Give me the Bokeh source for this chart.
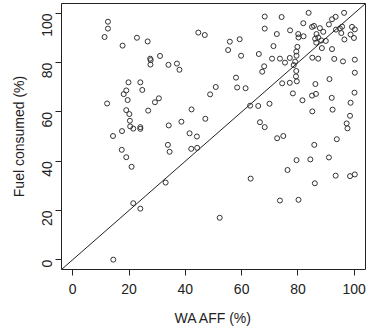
import math
from bokeh.plotting import figure
from bokeh.models import FixedTicker, Slope, ColumnDataSource, Range1d
from bokeh.embed import file_html
from bokeh.resources import INLINE

# WA AFF (%) values
wa_aff = [
    12.5, 12.5, 11.3, 17.7, 22.8, 26.6, 27.5, 27.7, 27.6, 31.0,
    34.0, 37.0, 37.9, 19.8, 24.0, 19.0, 18.1, 24.7, 19.5, 12.2,
    30.6, 29.2, 19.0, 20.1, 26.8, 20.3, 20.4, 21.5, 24.0, 24.0,
    34.1, 38.6, 17.5, 14.3, 17.4, 19.0, 20.9, 33.8, 34.4, 21.5,
    24.0, 33.0, 14.4,
    42.2, 47.1, 41.5, 44.1, 42.1, 44.2, 44.6, 46.9, 55.8, 55.2,
    59.3, 59.8, 58.0, 58.4, 61.4, 50.8, 48.8, 52.2,
    68.2, 74.2, 68.2, 72.5, 77.2, 71.3, 66.1, 70.8, 73.6, 75.4,
    77.1, 68.0, 67.3, 74.4, 77.1, 63.0, 65.9, 69.9, 66.5, 68.2,
    72.6, 74.8, 63.2, 76.3, 73.6,
    79.8, 79.4, 79.5, 79.0, 78.5, 79.4, 79.3, 79.6,
    83.8, 96.4, 92.1, 93.4, 81.9, 85.0, 85.7, 87.8, 89.0, 91.0,
    93.5, 94.9, 95.7, 95.4, 99.2, 100.2, 80.1, 82.0, 80.2, 86.6,
    87.2, 86.1, 88.3, 89.9, 86.5, 96.5, 98.7, 99.9, 88.5, 92.1,
    85.1, 87.2, 92.9, 96.0, 100.2, 100.2, 91.2, 86.2, 78.2, 85.0,
    86.4, 81.6, 92.0, 100.1, 98.7, 85.1, 92.3, 98.5, 97.3, 97.6,
    93.8, 85.8, 79.5, 84.4, 91.0, 86.0, 93.4, 98.5, 100.2, 80.2,
]

# Fuel consumed (%) values
fuel_consumed = [
    96.6, 93.8, 90.4, 86.9, 90.1, 88.6, 81.6, 81.0, 79.2, 82.7,
    79.1, 79.6, 77.1, 72.0, 72.0, 68.7, 67.2, 68.9, 64.8, 63.4,
    65.5, 63.9, 60.7, 59.1, 60.5, 56.4, 54.1, 53.2, 53.8, 53.1,
    54.5, 56.0, 52.2, 50.2, 44.6, 41.6, 37.7, 46.6, 43.8, 22.9,
    20.7, 31.3, 0.0,
    61.0, 57.2, 51.3, 50.0, 45.0, 45.4, 92.2, 91.2, 88.5, 85.1,
    89.5, 82.8, 73.9, 69.9, 69.6, 70.1, 67.1, 17.0,
    98.7, 98.5, 93.8, 91.6, 93.1, 86.7, 83.5, 81.6, 81.6, 80.0,
    81.9, 78.5, 76.3, 71.6, 71.8, 62.5, 62.4, 63.3, 55.8, 53.8,
    49.3, 50.2, 32.9, 36.4, 24.0,
    86.4, 84.5, 82.8, 80.4, 79.0, 76.6, 74.4, 72.4,
    100.2, 100.2, 97.6, 98.6, 96.0, 94.5, 94.9, 94.0, 92.5, 95.5,
    93.4, 93.9, 94.6, 92.0, 94.5, 93.5, 91.6, 90.7, 90.2, 91.6,
    90.2, 89.7, 89.0, 88.8, 88.1, 89.4, 91.4, 90.0, 85.9, 85.5,
    82.0, 81.6, 81.5, 80.5, 81.2, 75.9, 73.3, 71.3, 67.5, 66.6,
    67.3, 64.7, 65.7, 67.8, 63.7, 60.2, 60.9, 58.4, 55.3, 53.3,
    48.9, 46.6, 40.4, 40.7, 41.5, 31.0, 34.1, 33.9, 34.6, 24.3,
]

tick_values = [0, 20, 40, 60, 80, 100]
x_title = "WA AFF (%)"
y_title = "Fuel consumed (%)"

source = ColumnDataSource(data=dict(x=wa_aff, y=fuel_consumed))

p = figure(
    frame_width=304, frame_height=266,
    x_range=Range1d(-4, 104), y_range=Range1d(-4, 104),
    output_backend="svg", toolbar_location=None,
    min_border_left=61, min_border_right=2, min_border_top=3, min_border_bottom=56,
    background_fill_color="white", border_fill_color="white",
)

p.xgrid.visible = False
p.ygrid.visible = False
p.outline_line_color = "#222222"
p.outline_line_width = 1
p.outline_line_alpha = 1.0

for ax in (p.xaxis[0], p.yaxis[0]):
    ax.ticker = FixedTicker(ticks=tick_values)
    ax.axis_line_color = None
    ax.major_tick_out = 6
    ax.major_tick_in = 0
    ax.minor_tick_line_color = None
    ax.major_tick_line_color = "#222222"
    ax.major_label_text_font = "Liberation Sans"
    ax.major_label_text_font_size = "14px"
    ax.major_label_text_color = "#222222"
    ax.axis_label_text_font = "Liberation Sans"
    ax.axis_label_text_font_size = "14px"
    ax.axis_label_text_font_style = "normal"
    ax.axis_label_text_color = "#222222"

p.xaxis.axis_label = x_title
p.yaxis.axis_label = y_title
p.xaxis.major_label_standoff = 8
p.xaxis.axis_label_standoff = 13
p.yaxis.major_label_standoff = 8
p.yaxis.axis_label_standoff = 8
p.yaxis.major_label_orientation = math.pi / 2

p.add_layout(Slope(gradient=1, y_intercept=0, line_color="#222222", line_width=1))

p.scatter("x", "y", source=source, marker="circle", size=5,
          fill_color=None, line_color="#333333", line_width=1)

open("out.html", "w").write(file_html(p, INLINE))
